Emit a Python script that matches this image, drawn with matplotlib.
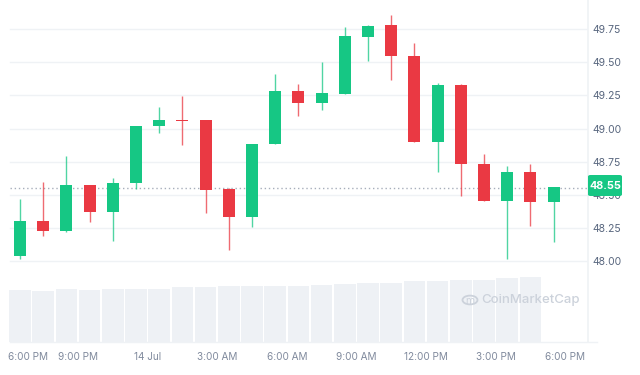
import matplotlib
matplotlib.use('Agg')
import matplotlib.pyplot as plt
import matplotlib.dates as mdates
import pandas as pd
from matplotlib.patches import FancyBboxPatch, Circle

# hourly candles, 13 Jul 6:00 PM -> 14 Jul 5:00 PM
times = pd.date_range('2024-07-13 18:00', periods=24, freq='h')
opens = [48.04, 48.30, 48.23, 48.57, 48.37, 48.59, 49.02, 49.065, 49.065, 48.54, 48.33, 48.88,
         49.28, 49.19, 49.26, 49.695, 49.78, 49.55, 48.90, 49.33, 48.735, 48.455, 48.675, 48.448]
highs = [48.47, 48.60, 48.79, 48.575, 48.625, 49.02, 49.16, 49.245, 49.065, 48.55, 48.887, 49.41,
         49.34, 49.505, 49.765, 49.785, 49.86, 49.65, 49.345, 49.34, 48.81, 48.72, 48.735, 48.558]
lows = [48.015, 48.19, 48.22, 48.295, 48.15, 48.54, 48.97, 48.877, 48.365, 48.083, 48.26, 48.88,
        49.093, 49.14, 49.258, 49.51, 49.37, 48.90, 48.67, 48.49, 48.455, 48.013, 48.267, 48.146]
closes = [48.30, 48.23, 48.57, 48.37, 48.59, 49.02, 49.065, 49.06, 48.535, 48.33, 48.887, 49.28,
          49.19, 49.265, 49.70, 49.776, 49.55, 48.90, 49.33, 48.735, 48.455, 48.675, 48.448, 48.558]
# 24h volume (millions), no bar for the running hour
volumes = [5.2, 5.1, 5.3, 5.2, 5.3, 5.3, 5.3, 5.5, 5.5, 5.6, 5.6, 5.6, 5.6, 5.7, 5.8, 5.9,
           5.9, 6.1, 6.1, 6.2, 6.2, 6.4, 6.5]

price_ticks = [48.00, 48.25, 48.50, 48.75, 49.00, 49.25, 49.50, 49.75]
tick_times = pd.date_range('2024-07-13 18:00', periods=9, freq='3h')
tick_labels = ['6:00 PM', '9:00 PM', '14 Jul', '3:00 AM', '6:00 AM', '9:00 AM',
               '12:00 PM', '3:00 PM', '6:00 PM']
last_price = 48.55

green = '#16c784'
red = '#ea3943'
grid_c = '#eff2f5'

plt.rcParams['font.family'] = ['Inter', 'DejaVu Sans']

fig = plt.figure(figsize=(6.4, 3.75), dpi=100)
ax = fig.add_axes([0, 33 / 375, 588 / 640, 342 / 375])
vax = ax.twinx()
ax.set_zorder(vax.get_zorder() + 1)
ax.patch.set_visible(False)

hour = 1 / 24
x = mdates.date2num(times) + 0.5 * hour

# volume
vax.bar(x[:len(volumes)], volumes, width=0.93 * hour, color='#eef1f5', linewidth=0)
vax.set_ylim(0, 34.2)
vax.set_yticks([])

# candles
for xi, o, h, l, c in zip(x, opens, highs, lows, closes):
    col = green if c >= o else red
    ax.vlines(xi, l, h, color=col, linewidth=1, alpha=0.75, zorder=3)
    lo, hi = min(o, c), max(o, c)
    ax.bar(xi, max(hi - lo, 0.004), bottom=lo, width=0.52 * hour, color=col,
           linewidth=0, zorder=4)

x0 = mdates.date2num(tick_times[0])
ax.set_xlim(x0 - 0.362 * hour, x0 + 24.98 * hour)
vax.set_xlim(ax.get_xlim())
ax.set_ylim(47.388, 49.971)

for p in price_ticks:
    ax.axhline(p, xmin=10 / 588, xmax=1, color=grid_c, linewidth=1, zorder=1)
ax.axhline(last_price, xmin=10 / 588, xmax=1, color='#a7aebb', linewidth=1,
           linestyle=(0, (1, 2)), zorder=2)

ax.yaxis.tick_right()
ax.set_yticks(price_ticks)
ax.set_yticklabels([f'{p:.2f}' for p in price_ticks])
ax.tick_params(axis='y', length=0, pad=3, labelsize=7.5, labelcolor='#58667e')
ax.set_xticks(mdates.date2num(tick_times))
ax.set_xticklabels(tick_labels)
ax.tick_params(axis='x', length=0, pad=7, labelsize=7.2, labelcolor='#808a9d')
ax.get_xticklabels()[0].set_horizontalalignment('left')

for a in (ax, vax):
    for s in a.spines.values():
        s.set_visible(False)
ax.axvline(ax.get_xlim()[1], color=grid_c, linewidth=1.2, clip_on=False)
ax.axhline(ax.get_ylim()[0], xmin=10 / 588, xmax=1.015, color=grid_c, linewidth=1, clip_on=False)

# last price tag
ax.add_patch(FancyBboxPatch((588 / 640, (375 - 196) / 375), 34 / 640, 21 / 375,
                            boxstyle='round,pad=0,rounding_size=0.004',
                            transform=fig.transFigure, facecolor=green, edgecolor='none',
                            clip_on=False, zorder=10))
fig.text(605 / 640, (375 - 186) / 375, f'{last_price:.2f}', color='white', fontsize=7.8,
         fontweight='bold', ha='center', va='center', zorder=11)

# watermark
fig.patches.append(Circle((470 / 640, (375 - 300) / 375), 7.5 / 640, transform=fig.transFigure,
                          fill=False, edgecolor='#ccd2db', linewidth=1.3))
fig.text(470 / 640, (375 - 300.5) / 375, 'm', color='#ccd2db', fontsize=7.5, ha='center',
         va='center')
fig.text(481 / 640, (375 - 300) / 375, 'CoinMarketCap', color='#ccd2db', fontsize=9.5,
         ha='left', va='center', fontweight='medium')

fig.savefig('out.png', dpi=100)
